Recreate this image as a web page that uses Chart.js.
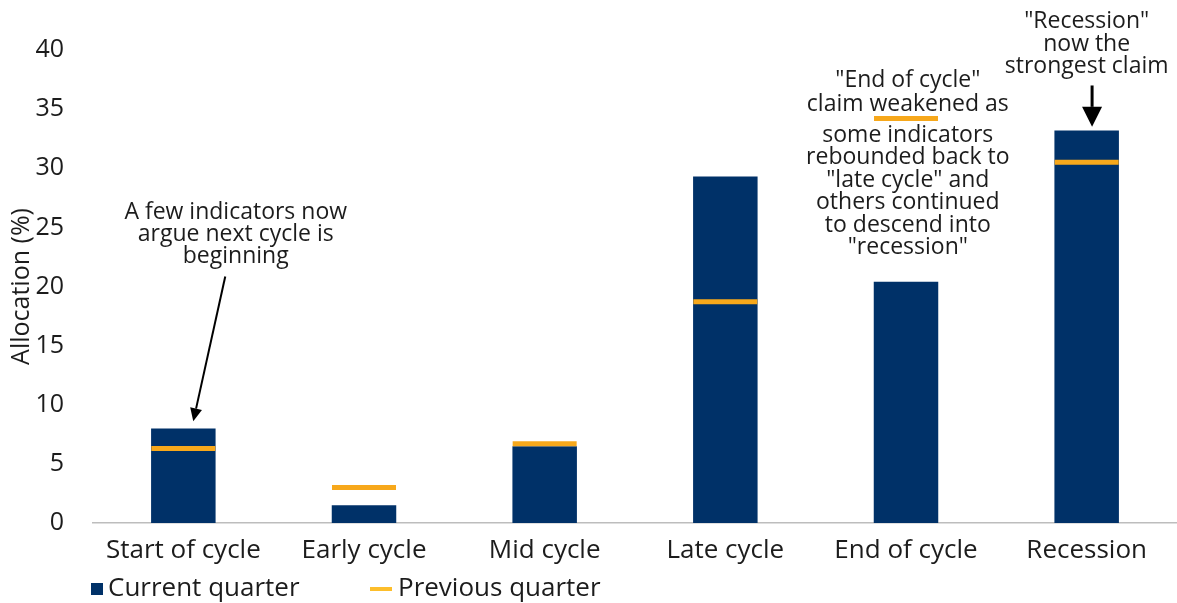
<!DOCTYPE html>
<html>
<head>
<meta charset="utf-8">
<script src="https://cdn.jsdelivr.net/npm/chart.js@4.4.1/dist/chart.umd.min.js"></script>
<style>
  html, body { margin: 0; padding: 0; background: #ffffff; }
  #wrap { position: relative; width: 1177px; height: 603px; }
</style>
</head>
<body>
<div id="wrap"><canvas id="c" width="1177" height="603"></canvas></div>
<script>
// ---- Data ----
const categories = ["Start of cycle", "Early cycle", "Mid cycle", "Late cycle", "End of cycle", "Recession"];
const currentQuarter = [8.0, 1.5, 6.5, 29.3, 20.4, 33.2];
const previousQuarter = [6.3, 3.0, 6.7, 18.7, 34.2, 30.5];
const yTicks = [0, 5, 10, 15, 20, 25, 30, 35, 40];
const seriesNames = ["Current quarter", "Previous quarter"];
const yTitle = "Allocation (%)";

// Annotation texts (positions given in data units: category index, value)
const note1Lines = ["A few indicators now", "argue next cycle is", "beginning"];
const note2Lines = ["\"End of cycle\"", "claim weakened as", "some indicators", "rebounded back to", "\"late cycle\" and", "others continued", "to descend into", "\"recession\""];
const note3Lines = ["\"Recession\"", "now the", "strongest claim"];

const NAVY = "#003168";
const ORANGE = "#F7A81B";
const TEXT = "#1c1c1c";
const FONT = "'Open Sans', 'DejaVu Sans', sans-serif";

const notes = [
  { lines: note1Lines, x: 0.29, y: [26.3, 24.4, 22.5] },
  { lines: note2Lines, x: 4.01, y: [37.4, 35.4, 32.8, 30.9, 29.0, 27.1, 25.2, 23.3] },
  { lines: note3Lines, x: 5.0, y: [42.4, 40.5, 38.6] }
];
const arrows = [
  { from: [0.232, 20.85], to: [0.055, 8.6], width: 2, head: 13, headW: 12 },
  { from: [5.03, 37.0], to: [5.03, 33.5], width: 3, head: 20, headW: 20 }
];

const annotationPlugin = {
  id: 'notes',
  afterDatasetsDraw(chart) {
    const ctx = chart.ctx;
    const xs = chart.scales.x, ys = chart.scales.y;
    const px = (v) => {
      const base = Math.floor(v);
      const frac = v - base;
      const a = xs.getPixelForValue(base);
      const b = xs.getPixelForValue(base + 1);
      return a + (b - a) * frac;
    };
    ctx.save();
    ctx.fillStyle = TEXT;
    ctx.font = "23px " + FONT;
    ctx.textAlign = 'center';
    ctx.textBaseline = 'middle';
    notes.forEach(n => {
      n.lines.forEach((t, i) => ctx.fillText(t, px(n.x), ys.getPixelForValue(n.y[i])));
    });
    arrows.forEach(a => {
      const x1 = px(a.from[0]), y1 = ys.getPixelForValue(a.from[1]);
      const x2 = px(a.to[0]), y2 = ys.getPixelForValue(a.to[1]);
      const ang = Math.atan2(y2 - y1, x2 - x1);
      const bx = x2 - Math.cos(ang) * a.head, by = y2 - Math.sin(ang) * a.head;
      ctx.strokeStyle = '#000';
      ctx.fillStyle = '#000';
      ctx.lineWidth = a.width;
      ctx.beginPath();
      ctx.moveTo(x1, y1);
      ctx.lineTo(bx, by);
      ctx.stroke();
      const nx = -Math.sin(ang), ny = Math.cos(ang);
      ctx.beginPath();
      ctx.moveTo(x2, y2);
      ctx.lineTo(bx + nx * a.headW / 2, by + ny * a.headW / 2);
      ctx.lineTo(bx - nx * a.headW / 2, by - ny * a.headW / 2);
      ctx.closePath();
      ctx.fill();
    });
    ctx.restore();
  }
};

const legendPlugin = {
  id: 'customLegend',
  afterDraw(chart) {
    const ctx = chart.ctx;
    ctx.save();
    ctx.font = "26px " + FONT;
    ctx.textBaseline = 'middle';
    ctx.textAlign = 'left';
    const cy = 589;
    let x = 91;
    ctx.fillStyle = NAVY;
    ctx.fillRect(x, cy - 6, 12, 12);
    ctx.fillStyle = TEXT;
    ctx.fillText(seriesNames[0], x + 17, cy);
    x = 370;
    ctx.fillStyle = "#FDBE2B";
    ctx.fillRect(x, cy - 2, 22, 4);
    ctx.fillStyle = TEXT;
    ctx.fillText(seriesNames[1], x + 28, cy);
    ctx.restore();
  }
};

new Chart(document.getElementById('c'), {
  type: 'bar',
  data: {
    labels: categories,
    datasets: [
      {
        type: 'bar',
        label: seriesNames[0],
        data: currentQuarter,
        backgroundColor: NAVY,
        barPercentage: 0.357,
        categoryPercentage: 1.0,
        order: 1
      },
      {
        type: 'line',
        label: seriesNames[1],
        data: previousQuarter,
        showLine: false,
        pointStyle: 'line',
        pointRadius: 32,
        pointHoverRadius: 32,
        pointBorderWidth: 5,
        pointBorderColor: ORANGE,
        borderColor: ORANGE,
        backgroundColor: ORANGE,
        clip: false,
        order: 0
      }
    ]
  },
  options: {
    responsive: false,
    animation: false,
    events: [],
    layout: { autoPadding: false, padding: { top: 50, right: -4, bottom: 34, left: 0 } },
    plugins: {
      legend: { display: false },
      tooltip: { enabled: false }
    },
    scales: {
      x: {
        grid: { display: false },
        border: { display: true, color: '#bdbdbd', width: 1.5 },
        ticks: { color: TEXT, font: { family: FONT, size: 26 }, padding: 4, maxRotation: 0, autoSkip: false },
        afterFit(scale) { scale.height = 46; }
      },
      y: {
        min: 0,
        max: 40,
        afterBuildTicks(scale) { scale.ticks = yTicks.map(v => ({ value: v })); },
        grid: { display: false },
        border: { display: false },
        ticks: { color: TEXT, font: { family: FONT, size: 25 }, padding: 21 },
        title: { display: true, text: yTitle, color: TEXT, font: { family: FONT, size: 25 }, padding: { top: 7, bottom: 0 } },
        afterFit(scale) { scale.width = 93; }
      }
    }
  },
  plugins: [annotationPlugin, legendPlugin]
});
</script>
</body>
</html>
